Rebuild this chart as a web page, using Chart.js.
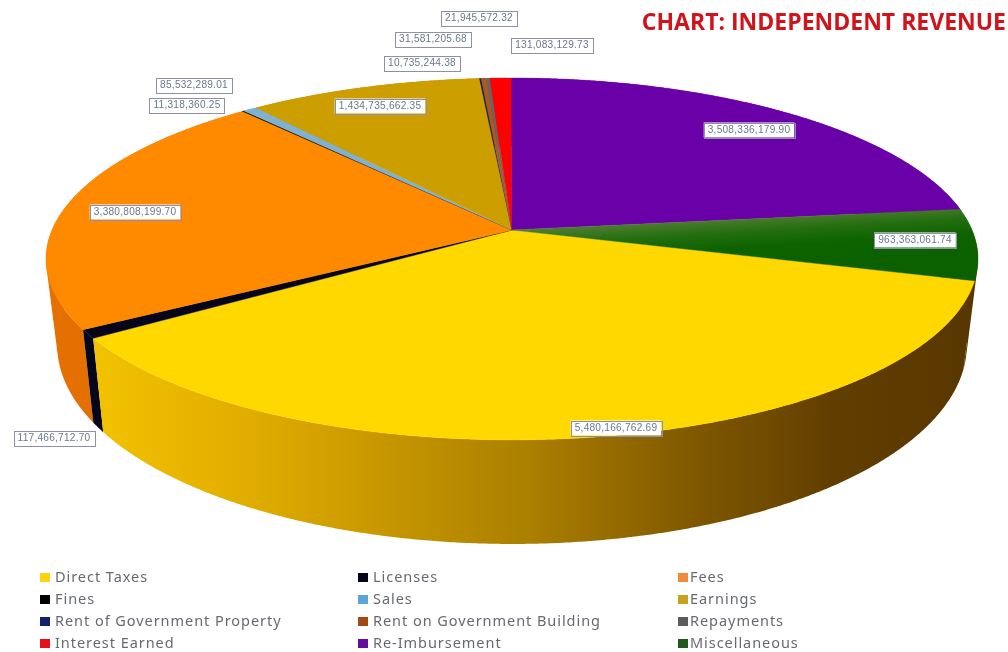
<!DOCTYPE html>
<html>
<head>
<meta charset="utf-8">
<style>
html,body{margin:0;padding:0;background:#fff;overflow:hidden}
canvas{display:block;filter:blur(0.55px)}
</style>
<script src="https://cdn.jsdelivr.net/npm/chart.js@4"></script>
</head>
<body>
<canvas id="c" width="1008" height="652"></canvas>
<script>
const categories = ["Direct Taxes","Licenses","Fees","Fines","Sales","Earnings","Rent of Government Property","Rent on Government Building","Repayments","Interest Earned","Re-Imbursement","Miscellaneous"];
const revenue = [5480166762.69,117466712.70,3380808199.70,11318360.25,85532289.01,1434735662.35,10735244.38,31581205.68,21945572.32,131083129.73,3508336179.90,963363061.74];
const sliceColors = ["#ffd800","#05051c","#ff8a00","#000000","#7fb2d2","#cc9e00","#14206a","#a85a20","#666666","#ff0000","#6a00a8","#0d6300"];
const wallColors = [null,"#07071c","#e56f00","#000000","#6f9cb8","#a88200","#101850","#8a4a18","#555555","#cc0000","#55008a","#583700"];
const legendSwatches = ["#ffd20a","#05051c","#f08a3c","#000000","#5aa6d6","#c9a020","#14206a","#a04a14","#5c5c5c","#e8101c","#62109c","#23591a"];

// Centre of each value label on the page, in the category order above
const labelCentres = [[616,428],[54,438],[135,212],[187,105],[194,85],[380,106],[422,63],[433,39],[479,18],[552,45],[749,130],[915,240]];
const legendColumns = [[40,55],[358,373],[678,690]];
const legendRows = [577,599,621,643];

// Projection of the flat pie onto the tilted, perspective view
const TILT = 0.16;
const topFace = {cx:512, cy:230, a:460, b:176.3};
const baseFace = {cx:512, cy:313, a:449, b:194};
function project(face, angle){
  const u = Math.cos(angle), v = Math.sin(angle), d = 1 - TILT*v;
  return [face.cx + face.a*u/d, face.cy + face.b*v/d];
}
function rimPoints(face, start, end){
  const n = Math.max(2, Math.ceil((end-start)/0.006));
  const pts = [];
  for(let i=0;i<=n;i++) pts.push(project(face, start+(end-start)*i/n));
  return pts;
}
function trace(ctx, pts){
  ctx.beginPath();
  addPolygon(ctx, pts);
}
function addPolygon(ctx, pts){
  pts.forEach((p,i)=> i?ctx.lineTo(p[0],p[1]):ctx.moveTo(p[0],p[1]));
  ctx.closePath();
}
function signedArea(pts){
  let s = 0;
  pts.forEach((p,i)=>{const q = pts[(i+1)%pts.length]; s += p[0]*q[1]-q[0]*p[1];});
  return s;
}

function yellowWall(ctx){
  const g = ctx.createLinearGradient(95,0,975,0);
  [[0,"#f2c200"],[.18,"#e0ac00"],[.34,"#c59500"],[.5,"#aa7e00"],[.68,"#805800"],[.84,"#613e00"],[1,"#583700"]]
    .forEach(s=>g.addColorStop(s[0],s[1]));
  return g;
}
function greenTop(ctx){
  const g = ctx.createLinearGradient(925,206,928,256);
  g.addColorStop(0,"#4f7d30");g.addColorStop(.3,"#236e10");g.addColorStop(.6,"#0e6300");g.addColorStop(1,"#0b6100");
  return g;
}

// Each arc element the library computed is drawn through the projection
Chart.ArcElement.prototype.draw = function(ctx){
  const i = this.$context ? this.$context.index : 0;
  const {startAngle,endAngle} = this.getProps(['startAngle','endAngle'],true);
  const pts = [[topFace.cx,topFace.cy]].concat(rimPoints(topFace,startAngle,endAngle));
  const fill = i===11 ? greenTop(ctx) : sliceColors[i];
  trace(ctx,pts);
  ctx.fillStyle = fill; ctx.strokeStyle = fill; ctx.lineWidth = 0.4;
  ctx.fill(); ctx.stroke();
};

const pieView = {
  id:'pieView',
  beforeDatasetsDraw(chart){
    const ctx = chart.ctx, arcs = chart.getDatasetMeta(0).data;
    const order = arcs.map((a,i)=>({a,i,m:Math.sin((a.startAngle+a.endAngle)/2)})).sort((p,q)=>p.m-q.m);
    ctx.save();
    order.forEach(({a,i})=>{
      const t = rimPoints(topFace,a.startAngle,a.endAngle);
      const b = rimPoints(baseFace,a.startAngle,a.endAngle);
      ctx.fillStyle = i===0 ? yellowWall(ctx) : wallColors[i];
      ctx.beginPath();
      for(let k=0;k<t.length-1;k++){
        const quad = [t[k],t[k+1],b[k+1],b[k]];
        if(signedArea(quad)<0) quad.reverse();
        addPolygon(ctx,quad);
      }
      ctx.fill('nonzero');
    });
    ctx.restore();
  },
  afterDatasetsDraw(chart){
    const ctx = chart.ctx, values = chart.data.datasets[0].data;
    ctx.save();
    ctx.font = '10.1px "Liberation Sans"';
    ctx.letterSpacing = '0.25px';
    ctx.textAlign = 'center'; ctx.textBaseline = 'middle';
    values.forEach((v,i)=>{
      const s = v.toLocaleString('en-US',{minimumFractionDigits:2,maximumFractionDigits:2});
      const [x,y] = labelCentres[i];
      const w = ctx.measureText(s).width + 8, h = 15;
      ctx.fillStyle = '#fff';
      ctx.fillRect(x-w/2,y-h/2,w,h);
      ctx.strokeStyle = '#8f8fa8'; ctx.lineWidth = 1;
      ctx.strokeRect(Math.round(x-w/2)+.5,Math.round(y-h/2)+.5,Math.round(w),h);
      ctx.fillStyle = '#68788f';
      ctx.fillText(s,x,y+.5);
    });
    // legend, three columns by four rows
    ctx.font = '14.5px "Noto Sans"';
    ctx.letterSpacing = '0.95px';
    ctx.textAlign = 'left';
    chart.data.labels.forEach((t,i)=>{
      const col = legendColumns[i%3], y = legendRows[Math.floor(i/3)];
      ctx.fillStyle = legendSwatches[i];
      ctx.fillRect(col[0],y-4,10,9);
      ctx.fillStyle = '#666a70';
      ctx.fillText(t,col[1],y+1);
    });
    ctx.restore();
  }
};

new Chart(document.getElementById('c'),{
  type:'pie',
  data:{labels:categories,datasets:[{data:revenue,backgroundColor:sliceColors,borderWidth:0}]},
  options:{
    responsive:false,animation:false,rotation:106,
    layout:{padding:{right:2}},
    plugins:{
      legend:{display:false},tooltip:{enabled:false},
      title:{display:true,text:'CHART: INDEPENDENT REVENUE',align:'end',color:'#d0141c',
        font:{family:'Open Sans',weight:'bold',size:23},padding:{top:10,bottom:0}}
    }
  },
  plugins:[pieView]
});
</script>
</body>
</html>
